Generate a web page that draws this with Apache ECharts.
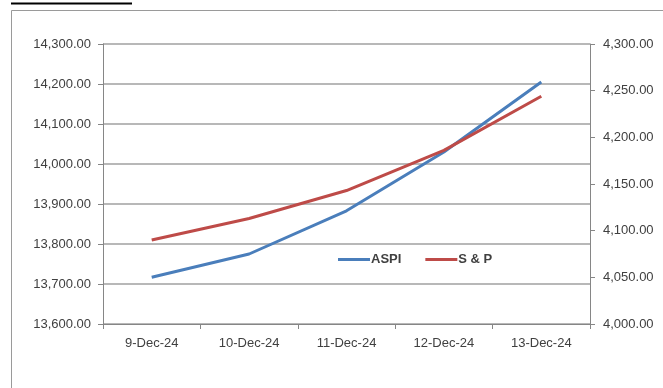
<!DOCTYPE html>
<html>
<head>
<meta charset="utf-8">
<script src="https://cdn.jsdelivr.net/npm/echarts@6/dist/echarts.min.js"></script>
<style>
  html, body { margin: 0; padding: 0; background: #fff; }
  #main { width: 663px; height: 388px; }
</style>
</head>
<body>
<div id="main"></div>
<script>
// data
var days = ['9-Dec-24', '10-Dec-24', '11-Dec-24', '12-Dec-24', '13-Dec-24']
var aspi = [13717, 13775, 13883, 14030, 14205]
var snp = [4090, 4113, 4143, 4186, 4244]

var mychart = echarts.init(document.getElementById('main'))

function fmt(v) {
  return v.toLocaleString('en-US', { minimumFractionDigits: 2, maximumFractionDigits: 2 })
}

var labelStyle = {
  fontFamily: 'Liberation Sans',
  fontSize: 13,
  color: '#404040',
}

var option = {
  animation: false,
  color: ['#4a7ebb', '#be4b48'],
  // outer frame + the cut off title underline
  graphic: [
    {
      type: 'rect',
      shape: { x: 11.5, y: 10.5, width: 700, height: 400 },
      style: { fill: 'none', stroke: '#9a9a9a', lineWidth: 1 },
      silent: true,
    },
    {
      type: 'line',
      shape: { x1: 11, y1: 3.5, x2: 132, y2: 3.5 },
      style: { stroke: '#000', lineWidth: 2 },
      silent: true,
    },
  ],
  grid: {
    left: 103,
    right: 73,
    top: 44,
    bottom: 64,
  },
  legend: {
    left: 333,
    top: 248,
    itemWidth: 32,
    itemHeight: 3,
    itemGap: 24,
    icon: 'rect',
    textStyle: {
      fontFamily: 'Liberation Sans',
      fontSize: 13,
      fontWeight: 'bold',
      color: '#404040',
      padding: [0, 0, 0, -4],
    },
    data: ['ASPI', 'S & P'],
  },
  xAxis: {
    type: 'category',
    data: days,
    boundaryGap: true,
    axisLine: { lineStyle: { color: '#868686', width: 1 } },
    axisTick: { show: true, alignWithLabel: false, length: 5, lineStyle: { color: '#868686' } },
    axisLabel: Object.assign({ margin: 13 }, labelStyle),
  },
  yAxis: [
    {
      type: 'value',
      min: 13600,
      max: 14300,
      interval: 100,
      position: 'left',
      axisLine: { show: true, lineStyle: { color: '#868686', width: 1 } },
      axisTick: { show: true, length: 5, lineStyle: { color: '#868686' } },
      axisLabel: Object.assign({ margin: 12, formatter: fmt }, labelStyle),
      splitLine: { show: true, lineStyle: { color: '#a0a0a0', width: 1.5 } },
    },
    {
      type: 'value',
      min: 4000,
      max: 4300,
      interval: 50,
      position: 'right',
      axisLine: { show: true, lineStyle: { color: '#868686', width: 1 } },
      axisTick: { show: true, length: 5, lineStyle: { color: '#868686' } },
      axisLabel: Object.assign({ margin: 13, formatter: fmt }, labelStyle),
      splitLine: { show: false },
    },
  ],
  series: [
    {
      name: 'ASPI',
      type: 'line',
      yAxisIndex: 0,
      showSymbol: false,
      symbol: 'none',
      lineStyle: { width: 3 },
      data: aspi,
    },
    {
      name: 'S & P',
      type: 'line',
      yAxisIndex: 1,
      showSymbol: false,
      symbol: 'none',
      lineStyle: { width: 3 },
      data: snp,
    },
  ],
}

mychart.setOption(option)
</script>
</body>
</html>
